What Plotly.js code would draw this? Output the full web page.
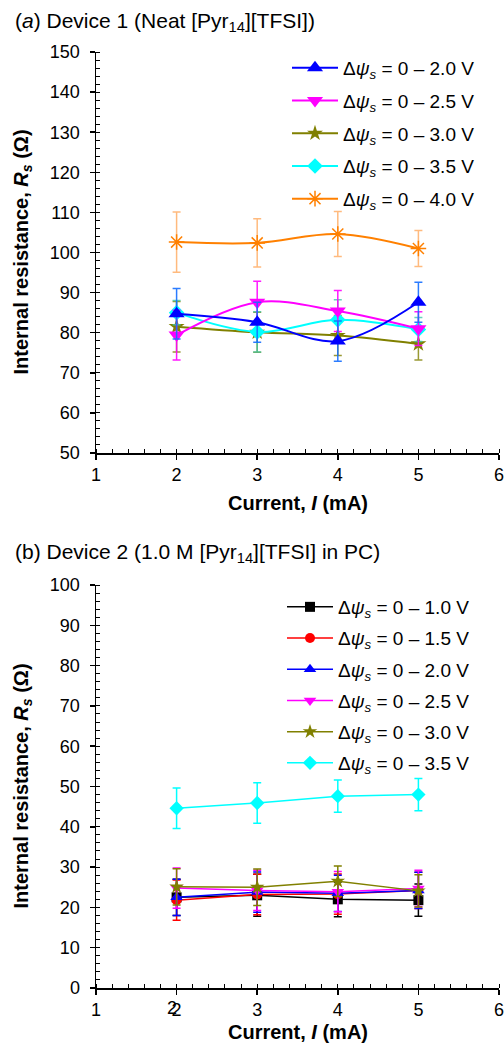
<!DOCTYPE html>
<html>
<head>
<meta charset="utf-8">
<script src="https://cdn.plot.ly/plotly-3.0.1.min.js"></script>
<style>html,body{margin:0;padding:0;background:#fff;}#chart{width:504px;height:1044px;}</style>
</head>
<body>
<div id="chart"></div>
<script>
// ---- data ----
const currents = [2, 3, 4, 5];

// Panel (a) Device 1 (Neat [Pyr14][TFSI])
const a_labels = ['0 – 2.0 V', '0 – 2.5 V', '0 – 3.0 V', '0 – 3.5 V', '0 – 4.0 V'];
const a_v20 = [84.7, 82.6, 77.9, 87.6];
const a_e20 = [6.3, 5.0, 5.0, 5.0];
const a_v25 = [79.4, 87.6, 85.4, 81.0];
const a_e25 = [6.2, 5.2, 5.1, 4.2];
const a_v30 = [81.5, 80.1, 79.3, 77.2];
const a_e30 = [6.3, 5.0, 5.0, 4.0];
const a_v35 = [85.0, 80.2, 83.2, 80.8];
const a_e35 = [3.0, 5.0, 5.0, 3.0];
const a_v40 = [102.6, 102.4, 104.6, 101.0];
const a_e40 = [7.5, 6.0, 5.6, 4.5];

// Panel (b) Device 2 (1.0 M [Pyr14][TFSI] in PC)
const b_labels = ['0 – 1.0 V', '0 – 1.5 V', '0 – 2.0 V', '0 – 2.5 V', '0 – 3.0 V', '0 – 3.5 V'];
const b_v10 = [22.5, 23.0, 22.0, 21.8];
const b_e10 = [4.5, 5.2, 4.3, 4.0];
const b_v15 = [21.8, 23.2, 23.3, 24.2];
const b_e15 = [5.0, 5.0, 5.0, 4.5];
const b_v20 = [22.5, 23.8, 23.5, 24.2];
const b_e20 = [4.5, 5.0, 4.5, 4.5];
const b_v25 = [24.8, 24.2, 23.9, 24.7];
const b_e25 = [5.0, 5.0, 5.0, 4.5];
const b_v30 = [25.1, 25.0, 26.5, 24.1];
const b_e30 = [4.5, 4.5, 3.8, 4.0];
const b_v35 = [44.6, 45.9, 47.6, 48.0];
const b_e35 = [5.0, 5.0, 4.0, 4.0];

const xTicks = [1, 2, 3, 4, 5, 6];

// ---- styles ----
const W = 504, H = 1044;
const FONT = 'Liberation Sans, Arial, sans-serif';
const px = v => v / W;
const py = v => 1 - v / H;

function lbl(t) { return 'Δ<i>ψ</i><sub><i>s</i></sub> = ' + t; }

function series(x, y, e, name, color, errColor, symbol, size, shape, xa, ya, legend, lw) {
  const open = symbol.indexOf('open') >= 0;
  return {
    type: 'scatter', mode: 'lines+markers', x: x, y: y, name: name,
    xaxis: xa, yaxis: ya, legend: legend, legendgroup: name + xa,
    line: {color: color, width: lw, shape: shape, smoothing: 1},
    marker: {symbol: symbol, size: size, color: color,
             line: {color: color, width: open ? 1.5 : 0}},
    error_y: {type: 'data', array: e, visible: true, color: errColor, thickness: 1.5, width: 4}
  };
}

const data = [
  series(currents, a_v40, a_e40, lbl(a_labels[4]), '#ff8000', 'rgba(255,140,40,0.6)', 'asterisk-open', 13, 'spline', 'x', 'y', 'legend', 2),
  series(currents, a_v30, a_e30, lbl(a_labels[2]), '#808000', 'rgba(128,128,0,0.8)', 'star', 12, 'spline', 'x', 'y', 'legend', 2),
  series(currents, a_v35, a_e35, lbl(a_labels[3]), '#00ffff', 'rgba(60,200,170,0.8)', 'diamond', 12, 'spline', 'x', 'y', 'legend', 2),
  series(currents, a_v25, a_e25, lbl(a_labels[1]), '#ff00ff', 'rgba(255,0,255,0.9)', 'triangle-down', 14, 'spline', 'x', 'y', 'legend', 2),
  series(currents, a_v20, a_e20, lbl(a_labels[0]), '#0000ff', 'rgba(20,110,255,0.9)', 'triangle-up', 14, 'spline', 'x', 'y', 'legend', 2),

  series(currents, b_v10, b_e10, lbl(b_labels[0]), '#000000', '#000000', 'square', 10, 'linear', 'x2', 'y2', 'legend2', 1.5),
  series(currents, b_v15, b_e15, lbl(b_labels[1]), '#ff0000', '#ff0000', 'circle', 10, 'linear', 'x2', 'y2', 'legend2', 1.5),
  series(currents, b_v20, b_e20, lbl(b_labels[2]), '#0000ff', '#0000ff', 'triangle-up', 11, 'linear', 'x2', 'y2', 'legend2', 1.5),
  series(currents, b_v25, b_e25, lbl(b_labels[3]), '#ff00ff', '#ff00ff', 'triangle-down', 11, 'linear', 'x2', 'y2', 'legend2', 1.5),
  series(currents, b_v30, b_e30, lbl(b_labels[4]), '#808000', '#808000', 'star', 11, 'linear', 'x2', 'y2', 'legend2', 1.5),
  series(currents, b_v35, b_e35, lbl(b_labels[5]), '#00ffff', '#00ffff', 'diamond', 11, 'linear', 'x2', 'y2', 'legend2', 1.5)
];

// legend order for panel (a): 2.0 .. 4.0 V
const aOrder = {}; a_labels.forEach((l, i) => aOrder[lbl(l)] = i);
data.forEach(t => { if (t.legend === 'legend') t.legendrank = aOrder[t.name] + 1; });

const xDom = [px(96), px(499)];
const yDomA = [py(453), py(52)];
const yDomB = [py(988), py(585)];

const base = {showgrid: false, zeroline: false, linecolor: '#000', linewidth: 1.5,
              tickcolor: '#000', tickwidth: 1.5, fixedrange: true};
function xMain(anchor, dom) {
  return Object.assign({}, base, {domain: dom, anchor: anchor, range: [1, 6], autorange: false,
    tickvals: xTicks, ticktext: xTicks.map(String), ticks: 'outside', ticklen: 5, showline: true,
    ticklabeloverflow: 'allow',
    minor: {dtick: 0.2, tick0: 1, ticks: 'inside', ticklen: 4, tickcolor: '#000', tickwidth: 1},
    tickfont: {size: 18, family: FONT, color: '#000'}});
}
function xOver(over, anchor, side, minor, line) {
  const o = Object.assign({}, base, {overlaying: over, anchor: anchor, side: side, range: [1, 6], autorange: false,
    tickvals: xTicks, ticks: 'inside', ticklen: 6, showticklabels: false, showline: line});
  if (minor) o.minor = {dtick: 0.2, tick0: 1, ticks: 'inside', ticklen: 4, tickcolor: '#000', tickwidth: 1};
  return o;
}
function yMain(anchor, dom, r) {
  return Object.assign({}, base, {domain: dom, anchor: anchor, range: r, autorange: false,
    dtick: 10, tick0: 0, ticks: 'outside', ticklen: 5, showline: true, ticklabelstandoff: 6,
    minor: {dtick: 2, tick0: 0, ticks: 'inside', ticklen: 4, tickcolor: '#000', tickwidth: 1},
    tickfont: {size: 18, family: FONT, color: '#000'}});
}
function yOver(over, anchor, side, r, minor, line) {
  const o = Object.assign({}, base, {overlaying: over, anchor: anchor, side: side, range: r, autorange: false,
    dtick: 10, tick0: 0, ticks: 'inside', ticklen: 6, showticklabels: false, showline: line});
  if (minor) o.minor = {dtick: 2, tick0: 0, ticks: 'inside', ticklen: 4, tickcolor: '#000', tickwidth: 1};
  return o;
}

const rA = [50, 150], rB = [0, 100];

const legendBase = {bgcolor: 'rgba(0,0,0,0)', borderwidth: 0, font: {size: 19, family: FONT, color: '#000'},
                    xanchor: 'left', yanchor: 'top', itemwidth: 46, traceorder: 'grouped',
                    itemclick: false, itemdoubleclick: false};

const layout = {
  width: W, height: H, margin: {l: 0, r: 0, t: 0, b: 0},
  paper_bgcolor: '#fff', plot_bgcolor: 'rgba(0,0,0,0)',
  font: {family: FONT, color: '#000', size: 18},
  showlegend: true,
  xaxis: xMain('y', xDom),
  xaxis3: xOver('x', 'y', 'bottom', false, false),
  xaxis5: xOver('x', 'y', 'top', true, true),
  yaxis: yMain('x', yDomA, rA),
  yaxis3: yOver('y', 'x', 'left', rA, false, false),
  yaxis5: yOver('y', 'x', 'right', rA, true, true),
  xaxis2: xMain('y2', xDom),
  xaxis4: xOver('x2', 'y2', 'bottom', false, false),
  xaxis6: xOver('x2', 'y2', 'top', true, true),
  yaxis2: yMain('x2', yDomB, rB),
  yaxis4: yOver('y2', 'x2', 'left', rB, false, false),
  yaxis6: yOver('y2', 'x2', 'right', rB, true, true),
  legend: Object.assign({}, legendBase, {x: px(287), y: py(49), tracegroupgap: 5}),
  legend2: Object.assign({}, legendBase, {x: px(282), y: py(588), tracegroupgap: 3.5}),
  annotations: [
    {xref: 'paper', yref: 'paper', x: px(13), y: py(22), xanchor: 'left', yanchor: 'middle', showarrow: false,
     text: '(<i>a</i>) Device 1 (Neat [Pyr<sub>14</sub>][TFSI])', font: {size: 21, family: FONT}},
    {xref: 'paper', yref: 'paper', x: px(13), y: py(553), xanchor: 'left', yanchor: 'middle', showarrow: false,
     text: '(b) Device 2 (1.0 M [Pyr<sub>14</sub>][TFSI] in PC)', font: {size: 21, family: FONT}},
    {xref: 'paper', yref: 'paper', x: px(22), y: py(252.5), xanchor: 'center', yanchor: 'middle', showarrow: false,
     textangle: -90, text: '<b>Internal resistance, <i>R</i><sub><i>s</i></sub> (Ω)</b>', font: {size: 20, family: FONT}},
    {xref: 'paper', yref: 'paper', x: px(22), y: py(786.5), xanchor: 'center', yanchor: 'middle', showarrow: false,
     textangle: -90, text: '<b>Internal resistance, <i>R</i><sub><i>s</i></sub> (Ω)</b>', font: {size: 20, family: FONT}},
    {xref: 'paper', yref: 'paper', x: px(297.5), y: py(503), xanchor: 'center', yanchor: 'middle', showarrow: false,
     text: '<b>Current, <i>I</i> (mA)</b>', font: {size: 20, family: FONT}},
    {xref: 'paper', yref: 'paper', x: px(297.5), y: py(1032), xanchor: 'center', yanchor: 'middle', showarrow: false,
     text: '<b>Current, <i>I</i> (mA)</b>', font: {size: 20, family: FONT}},
    {xref: 'x2', yref: 'paper', x: xTicks[1], y: py(1008), xanchor: 'center', yanchor: 'middle', xshift: -5, showarrow: false,
     text: String(xTicks[1]), font: {size: 18, family: FONT}}
  ]
};

Plotly.newPlot('chart', data, layout, {staticPlot: true, displayModeBar: false});
</script>
</body>
</html>
